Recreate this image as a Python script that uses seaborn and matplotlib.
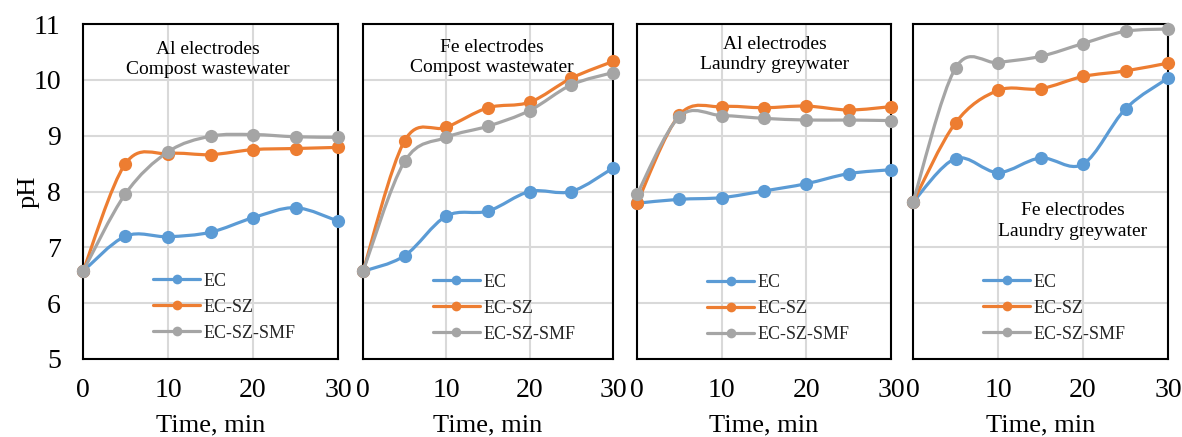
import numpy as np
import pandas as pd
import matplotlib
matplotlib.use("Agg")
import matplotlib.pyplot as plt
import seaborn as sns
from matplotlib.path import Path
from matplotlib.patches import PathPatch
from matplotlib.lines import Line2D

# ---------------- data ----------------
time_min = [0, 5, 10, 15, 20, 25, 30]
series_names = ["EC", "EC-SZ", "EC-SZ-SMF"]
panel_titles = ["Al electrodes\nCompost wastewater",
                "Fe electrodes\nCompost wastewater",
                "Al electrodes\nLaundry greywater",
                "Fe electrodes\nLaundry greywater"]
x_ticks = [0, 10, 20, 30]
y_ticks = [5, 6, 7, 8, 9, 10, 11]

al_compost_ec = [6.57, 7.20, 7.19, 7.27, 7.53, 7.71, 7.47]
al_compost_sz = [6.57, 8.50, 8.68, 8.66, 8.75, 8.77, 8.79]
al_compost_smf = [6.57, 7.96, 8.71, 8.99, 9.02, 8.98, 8.97]

fe_compost_ec = [6.57, 6.85, 7.56, 7.65, 8.00, 8.00, 8.42]
fe_compost_sz = [6.57, 8.91, 9.15, 9.50, 9.60, 10.03, 10.33]
fe_compost_smf = [6.57, 8.54, 8.97, 9.17, 9.45, 9.91, 10.13]

al_laundry_ec = [7.79, 7.86, 7.89, 8.01, 8.14, 8.32, 8.39]
al_laundry_sz = [7.79, 9.37, 9.52, 9.50, 9.53, 9.46, 9.52]
al_laundry_smf = [7.95, 9.34, 9.36, 9.31, 9.28, 9.28, 9.27]

fe_laundry_ec = [7.81, 8.59, 8.34, 8.60, 8.49, 9.48, 10.03]
fe_laundry_sz = [7.81, 9.23, 9.81, 9.84, 10.06, 10.16, 10.30]
fe_laundry_smf = [7.81, 10.21, 10.31, 10.42, 10.65, 10.87, 10.91]

panels_data = [
    [al_compost_ec, al_compost_sz, al_compost_smf],
    [fe_compost_ec, fe_compost_sz, fe_compost_smf],
    [al_laundry_ec, al_laundry_sz, al_laundry_smf],
    [fe_laundry_ec, fe_laundry_sz, fe_laundry_smf],
]

# ---------------- style ----------------
colors = {"EC": "#5B9BD5", "EC-SZ": "#ED7D31", "EC-SZ-SMF": "#A5A5A5"}
sns.set_theme(style="white")
plt.rcParams["font.family"] = ["Liberation Serif", "DejaVu Serif"]

W, H = 1182, 437
fig = plt.figure(figsize=(W / 100, H / 100), dpi=100)

# panel geometry in pixels (left, width)
panel_px = [(83, 255), (363, 250), (637, 254), (913, 255)]
top_px, bot_px = 24, 359
title_pos = [(0.49, 0.895), (0.516, 0.901), (0.543, 0.909), (0.627, 0.412)]
legend_pos = [(0.275, 0.155), (0.28, 0.152), (0.276, 0.15), (0.275, 0.152)]


def smooth_path(x, y):
    pts = np.column_stack([x, y]).astype(float)
    n = len(pts)
    verts = [pts[0]]
    codes = [Path.MOVETO]
    for i in range(n - 1):
        p0 = pts[max(i - 1, 0)]
        p1 = pts[i]
        p2 = pts[i + 1]
        p3 = pts[min(i + 2, n - 1)]
        c1 = p1 + (p2 - p0) / 6.0
        c2 = p2 - (p3 - p1) / 6.0
        verts += [c1, c2, p2]
        codes += [Path.CURVE4] * 3
    return Path(verts, codes)


LW = 2.3
for k, (left, width) in enumerate(panel_px):
    ax = fig.add_axes([left / W, 1 - bot_px / H, width / W, (bot_px - top_px) / H])
    rows = []
    for name, vals in zip(series_names, panels_data[k]):
        for t, v in zip(time_min, vals):
            rows.append({"Time": t, "pH": v, "Series": name})
    df = pd.DataFrame(rows)

    sns.lineplot(data=df, x="Time", y="pH", hue="Series", hue_order=series_names,
                 palette=colors, marker="o", markersize=9.5, markeredgewidth=0,
                 linewidth=LW, ax=ax, legend=False, clip_on=False)

    data_lines = [ln for ln in ax.lines if len(ln.get_xdata()) > 0]
    for i, ln in enumerate(data_lines):
        x = np.asarray(ln.get_xdata(), float)
        y = np.asarray(ln.get_ydata(), float)
        ln.set_linestyle("none")
        ln.set_zorder(4 + i)
        patch = PathPatch(smooth_path(x, y), facecolor="none", edgecolor=ln.get_color(),
                          lw=LW, zorder=3.9 + i, capstyle="round", joinstyle="round",
                          clip_on=False)
        ax.add_patch(patch)

    ax.set_xlim(0, 30)
    ax.set_ylim(5, 11)
    ax.set_xticks(x_ticks)
    ax.set_yticks(y_ticks)
    ax.grid(True, color="#D9D9D9", linewidth=1.5)
    ax.set_axisbelow(True)
    for sp in ax.spines.values():
        sp.set_color("black")
        sp.set_linewidth(1.5)
        sp.set_visible(True)
    ax.tick_params(axis="both", length=0, labelsize=20, colors="black")
    ax.tick_params(axis="x", pad=14)
    ax.tick_params(axis="y", pad=16)
    ax.set_xlabel("Time, min", fontsize=19, color="black", labelpad=8)
    if k == 0:
        ax.set_ylabel("pH", fontsize=19, color="black")
        ax.yaxis.set_label_coords(-(83 - 40) / 255, 0.5)
    else:
        ax.set_ylabel("")
        ax.tick_params(axis="y", labelleft=False)

    ax.text(title_pos[k][0], title_pos[k][1], panel_titles[k], transform=ax.transAxes,
            ha="center", va="center", fontsize=14, color="black", linespacing=1.25)

    handles = [Line2D([0], [0], color=colors[n], lw=LW, marker="o", markersize=7,
                      markeredgewidth=0) for n in series_names]
    ax.legend(handles, series_names, loc="center left", bbox_to_anchor=legend_pos[k],
              frameon=False, fontsize=13, handlelength=2.6, handletextpad=0.2,
              labelspacing=0.5, borderpad=0, borderaxespad=0)

fig.savefig("out.png", dpi=100)
